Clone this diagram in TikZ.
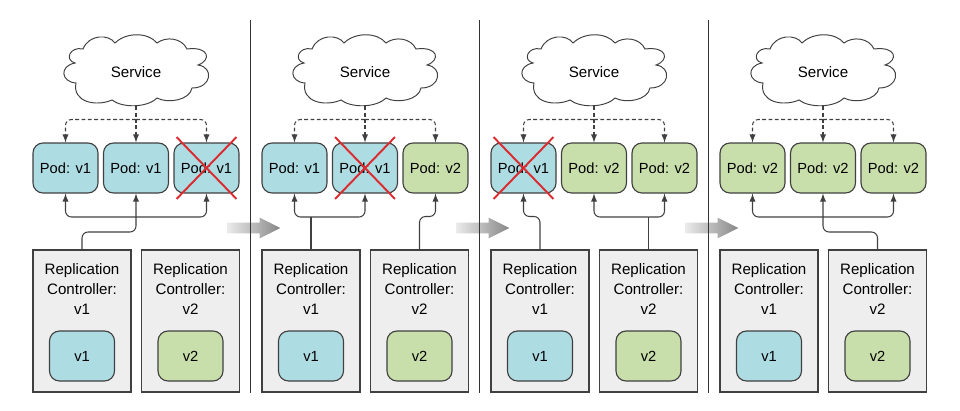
\documentclass[tikz,border=0pt]{standalone}
\usepackage{fontspec}
\setmainfont{Liberation Sans}
\usetikzlibrary{shapes.arrows, shapes.misc}

\definecolor{podblue}{HTML}{AEDCE3}
\definecolor{podgreen}{HTML}{C9DFAB}
\definecolor{rcgray}{HTML}{EEEEEE}
\definecolor{linegray}{HTML}{404040}
\definecolor{crossred}{HTML}{DC2B30}

\tikzset{
  svccloud/.pic = {
    \draw[draw=linegray, fill=white, line width=0.55pt] (-21, -27)
      .. controls (-27, -36) and (-47, -36) .. (-53, -21)
      .. controls (-66, -24) and (-72, -10) .. (-61, -7)
      .. controls (-77, -4) and (-75, 12) .. (-60, 13)
      .. controls (-64, 32) and (-40, 37) .. (-24, 30)
      .. controls (-14, 38) and (11, 38) .. (21, 28)
      .. controls (32, 34) and (54, 30) .. (56, 18)
      .. controls (76, 18) and (78, -3) .. (62, -5)
      .. controls (76, -10) and (73, -24) .. (51, -21)
      .. controls (46, -32) and (30, -34) .. (21, -27)
      .. controls (12, -38) and (-10, -38) .. (-21, -27) -- cycle;
  },
  service/.style = {minimum height=1.36cm, inner sep=0pt, font=\fontsize{8.6}{10}\selectfont},
  pod/.style = {draw=linegray, rounded corners=0.2cm, line width=0.65pt, minimum width=1.3cm, minimum height=1cm, inner sep=0pt, font=\fontsize{8.35}{10}\selectfont},
  podv1/.style = {pod, fill=podblue},
  podv2/.style = {pod, fill=podgreen},
  rcbox/.style = {draw=linegray, fill=rcgray, line width=0.6pt, minimum width=1.96cm, minimum height=2.84cm, inner sep=0pt},
  rclabel/.style = {align=center, font=\fontsize{8.6}{11.4}\selectfont},
  crossmark/.style = {cross out, draw=crossred, line width=1.1pt, minimum width=1.16cm, minimum height=1.2cm, inner sep=0pt},
  svclink/.style = {draw=linegray, dash pattern=on 2.2pt off 1.4pt, line width=0.6pt, rounded corners=0.12cm, -latex},
  rclink/.style = {draw=linegray, line width=0.6pt, rounded corners=0.12cm, -latex},
  rcline/.style = {draw=linegray, line width=0.6pt, rounded corners=0.12cm},
  divider/.style = {draw=black!80, line width=0.7pt},
  nextstep/.style = {single arrow, left color=black!8, right color=black!47, minimum width=0.4cm, minimum height=1.06cm, single arrow head extend=0.1cm, single arrow tip angle=53, inner xsep=0pt, inner ysep=0.1cm, draw=none}
}

\begin{document}
\begin{tikzpicture}[x = 0.02cm, y = -0.02cm]
\useasboundingbox (0, 0) rectangle (960, 410);

%draw step arrows
\node[nextstep] (step1) at (248.5, 228) {};
\node[nextstep] (step2) at (477.5, 228) {};
\node[nextstep] (step3) at (706.5, 228) {};

%draw dividers
\coordinate (top1) at (250.5, 20);
\coordinate (bot1) at (250.5, 393);
\coordinate (top2) at (479.5, 20);
\coordinate (bot2) at (479.5, 393);
\coordinate (top3) at (708.5, 20);
\coordinate (bot3) at (708.5, 393);
\draw[divider] (top1) to (bot1);
\draw[divider] (top2) to (bot2);
\draw[divider] (top3) to (bot3);

%draw panel 1
\pic at (136, 70) {svccloud};
\node[service] (svc1) at (136, 72) {Service};
\node[podv1] (pa1) at (65.5, 168) {Pod: v1};
\node[podv1] (pb1) at (136, 168) {Pod: v1};
\node[podv1] (pc1) at (206.5, 168) {Pod: v1};
\node[crossmark] (xx1) at (206.5, 168) {};
\node[rcbox] (rca1) at (82, 321) {};
\node[rcbox] (rcb1) at (190.5, 321) {};
\node[rclabel] (lba1) at (82, 289) {Replication\\Controller:\\v1};
\node[rclabel] (lbb1) at (190.5, 289) {Replication\\Controller:\\v2};
\node[podv1] (tpa1) at (82, 356) {v1};
\node[podv2] (tpb1) at (190.5, 356) {v2};
\coordinate (dj1) at (136, 119.5);
\coordinate (uj1) at (136, 217);
\draw[svclink] (svc1.south) to (pb1.north);
\draw[svclink] (dj1) -| (pa1.north);
\draw[svclink] (dj1) -| (pc1.north);
\draw[rclink] (uj1) -| (pa1.south);
\draw[rclink] (uj1) -| (pc1.south);
\draw[rclink] (rca1.north) -- ++(0, -17.5) -| (pb1.south);

%draw panel 2
\pic at (365, 70) {svccloud};
\node[service] (svc2) at (365, 72) {Service};
\node[podv1] (pa2) at (294.5, 168) {Pod: v1};
\node[podv1] (pb2) at (365, 168) {Pod: v1};
\node[podv2] (pc2) at (435.5, 168) {Pod: v2};
\node[crossmark] (xx2) at (365, 168) {};
\node[rcbox] (rca2) at (311, 321) {};
\node[rcbox] (rcb2) at (419.5, 321) {};
\node[rclabel] (lba2) at (311, 289) {Replication\\Controller:\\v1};
\node[rclabel] (lbb2) at (419.5, 289) {Replication\\Controller:\\v2};
\node[podv1] (tpa2) at (311, 356) {v1};
\node[podv2] (tpb2) at (419.5, 356) {v2};
\coordinate (dj2) at (365, 119.5);
\coordinate (uj2) at (311, 217);
\draw[svclink] (svc2.south) to (pb2.north);
\draw[svclink] (dj2) -| (pa2.north);
\draw[svclink] (dj2) -| (pc2.north);
\draw[rclink] (uj2) -| (pa2.south);
\draw[rclink] (uj2) -| (pb2.south);
\draw[rcline] (rca2.north) to (uj2);
\draw[rclink] (rcb2.north) -- ++(0, -33) -| (pc2.south);

%draw panel 3
\pic at (594, 70) {svccloud};
\node[service] (svc3) at (594, 72) {Service};
\node[podv1] (pa3) at (523.5, 168) {Pod: v1};
\node[podv2] (pb3) at (594, 168) {Pod: v2};
\node[podv2] (pc3) at (664.5, 168) {Pod: v2};
\node[crossmark] (xx3) at (523.5, 168) {};
\node[rcbox] (rca3) at (540, 321) {};
\node[rcbox] (rcb3) at (648.5, 321) {};
\node[rclabel] (lba3) at (540, 289) {Replication\\Controller:\\v1};
\node[rclabel] (lbb3) at (648.5, 289) {Replication\\Controller:\\v2};
\node[podv1] (tpa3) at (540, 356) {v1};
\node[podv2] (tpb3) at (648.5, 356) {v2};
\coordinate (dj3) at (594, 119.5);
\coordinate (uj3) at (648.5, 217);
\draw[svclink] (svc3.south) to (pb3.north);
\draw[svclink] (dj3) -| (pa3.north);
\draw[svclink] (dj3) -| (pc3.north);
\draw[rclink] (rca3.north) -- ++(0, -33) -| (pa3.south);
\draw[rclink] (uj3) -| (pb3.south);
\draw[rclink] (uj3) -| (pc3.south);
\draw[rcline] (rcb3.north) to (uj3);

%draw panel 4
\pic at (823, 70) {svccloud};
\node[service] (svc4) at (823, 72) {Service};
\node[podv2] (pa4) at (752.5, 168) {Pod: v2};
\node[podv2] (pb4) at (823, 168) {Pod: v2};
\node[podv2] (pc4) at (893.5, 168) {Pod: v2};
\node[rcbox] (rca4) at (769, 321) {};
\node[rcbox] (rcb4) at (877.5, 321) {};
\node[rclabel] (lba4) at (769, 289) {Replication\\Controller:\\v1};
\node[rclabel] (lbb4) at (877.5, 289) {Replication\\Controller:\\v2};
\node[podv1] (tpa4) at (769, 356) {v1};
\node[podv2] (tpb4) at (877.5, 356) {v2};
\coordinate (dj4) at (823, 119.5);
\coordinate (uj4) at (823, 217);
\draw[svclink] (svc4.south) to (pb4.north);
\draw[svclink] (dj4) -| (pa4.north);
\draw[svclink] (dj4) -| (pc4.north);
\draw[rclink] (uj4) -| (pa4.south);
\draw[rclink] (uj4) -| (pc4.south);
\draw[rclink] (rcb4.north) -- ++(0, -17.5) -| (pb4.south);

\end{tikzpicture}
\end{document}
